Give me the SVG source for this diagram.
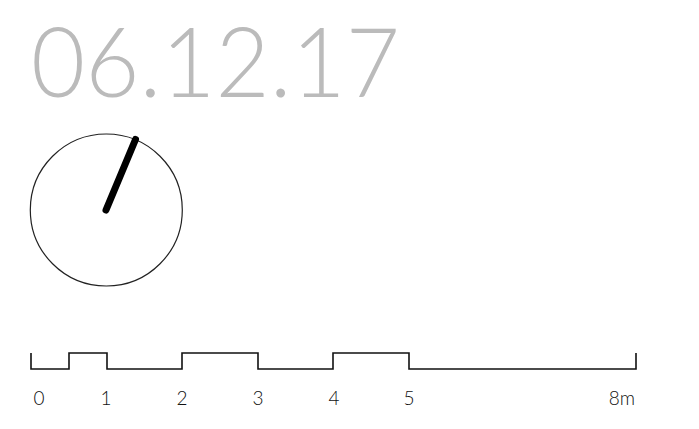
<svg xmlns="http://www.w3.org/2000/svg" width="699" height="429" viewBox="0 0 699 429">
<style>
.title{font-family:"Lato","Open Sans","Liberation Sans",sans-serif;font-weight:300;font-size:96px;fill:#bbbbbb}
.lbl{font-family:"Lato","Liberation Sans",sans-serif;font-weight:300;font-size:19px;fill:#111;text-anchor:middle}
.bar{fill:none;stroke:#111;stroke-width:1.6}
</style>
<rect width="699" height="429" fill="#fff"/>
<g id="date"><text class="title" x="31" y="97" textLength="369" lengthAdjust="spacingAndGlyphs">06.12.17</text></g>
<g id="clock">
<circle cx="106.3" cy="210" r="76" fill="none" stroke="#222" stroke-width="1.2"/>
<line x1="106" y1="210" x2="135.5" y2="139.5" stroke="#000" stroke-width="7" stroke-linecap="round"/>
</g>
<g id="scale">
<path class="bar" d="M31,353 V369 H69 V353 H107 V369 H182 V353 H258 V369 H333 V353 H409 V369 H636 V353"/>
<text class="lbl" x="39" y="405">0</text>
<text class="lbl" x="106" y="405">1</text>
<text class="lbl" x="182" y="405">2</text>
<text class="lbl" x="258" y="405">3</text>
<text class="lbl" x="334" y="405">4</text>
<text class="lbl" x="409" y="405">5</text>
<text class="lbl" x="635" y="405" style="text-anchor:end">8m</text>
</g>
</svg>
